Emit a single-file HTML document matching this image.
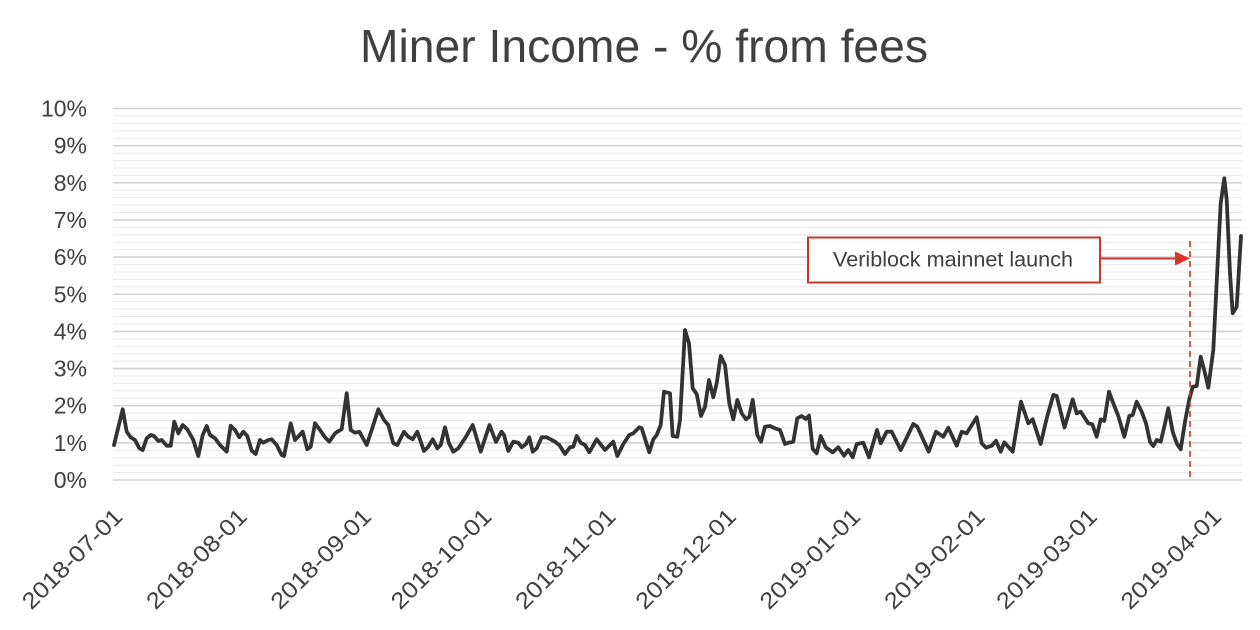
<!DOCTYPE html>
<html>
<head>
<meta charset="utf-8">
<style>
  html, body { margin: 0; padding: 0; background: #ffffff; }
  svg { display: block; }
  text { font-family: "Liberation Sans", sans-serif; fill: #404040; }
</style>
</head>
<body>
<svg width="1260" height="630" viewBox="0 0 1260 630" xmlns="http://www.w3.org/2000/svg">
  <rect x="0" y="0" width="1260" height="630" fill="#ffffff"/>

  <text x="360" y="62" font-size="46" textLength="568" lengthAdjust="spacingAndGlyphs">Miner Income - % from fees</text>

  <g stroke="#e8e8e8" stroke-width="1">
    <line x1="113" x2="1242" y1="472.57" y2="472.57"/>
    <line x1="113" x2="1242" y1="465.14" y2="465.14"/>
    <line x1="113" x2="1242" y1="457.71" y2="457.71"/>
    <line x1="113" x2="1242" y1="450.28" y2="450.28"/>
    <line x1="113" x2="1242" y1="435.42" y2="435.42"/>
    <line x1="113" x2="1242" y1="427.99" y2="427.99"/>
    <line x1="113" x2="1242" y1="420.56" y2="420.56"/>
    <line x1="113" x2="1242" y1="413.13" y2="413.13"/>
    <line x1="113" x2="1242" y1="398.27" y2="398.27"/>
    <line x1="113" x2="1242" y1="390.84" y2="390.84"/>
    <line x1="113" x2="1242" y1="383.41" y2="383.41"/>
    <line x1="113" x2="1242" y1="375.98" y2="375.98"/>
    <line x1="113" x2="1242" y1="361.12" y2="361.12"/>
    <line x1="113" x2="1242" y1="353.69" y2="353.69"/>
    <line x1="113" x2="1242" y1="346.26" y2="346.26"/>
    <line x1="113" x2="1242" y1="338.83" y2="338.83"/>
    <line x1="113" x2="1242" y1="323.97" y2="323.97"/>
    <line x1="113" x2="1242" y1="316.54" y2="316.54"/>
    <line x1="113" x2="1242" y1="309.11" y2="309.11"/>
    <line x1="113" x2="1242" y1="301.68" y2="301.68"/>
    <line x1="113" x2="1242" y1="286.82" y2="286.82"/>
    <line x1="113" x2="1242" y1="279.39" y2="279.39"/>
    <line x1="113" x2="1242" y1="271.96" y2="271.96"/>
    <line x1="113" x2="1242" y1="264.53" y2="264.53"/>
    <line x1="113" x2="1242" y1="249.67" y2="249.67"/>
    <line x1="113" x2="1242" y1="242.24" y2="242.24"/>
    <line x1="113" x2="1242" y1="234.81" y2="234.81"/>
    <line x1="113" x2="1242" y1="227.38" y2="227.38"/>
    <line x1="113" x2="1242" y1="212.52" y2="212.52"/>
    <line x1="113" x2="1242" y1="205.09" y2="205.09"/>
    <line x1="113" x2="1242" y1="197.66" y2="197.66"/>
    <line x1="113" x2="1242" y1="190.23" y2="190.23"/>
    <line x1="113" x2="1242" y1="175.37" y2="175.37"/>
    <line x1="113" x2="1242" y1="167.94" y2="167.94"/>
    <line x1="113" x2="1242" y1="160.51" y2="160.51"/>
    <line x1="113" x2="1242" y1="153.08" y2="153.08"/>
    <line x1="113" x2="1242" y1="138.22" y2="138.22"/>
    <line x1="113" x2="1242" y1="130.79" y2="130.79"/>
    <line x1="113" x2="1242" y1="123.36" y2="123.36"/>
    <line x1="113" x2="1242" y1="115.93" y2="115.93"/>
  </g>

  <g stroke="#d4d4d4" stroke-width="1.6">
    <line x1="113" x2="1242" y1="480" y2="480"/>
    <line x1="113" x2="1242" y1="442.85" y2="442.85"/>
    <line x1="113" x2="1242" y1="405.7" y2="405.7"/>
    <line x1="113" x2="1242" y1="368.55" y2="368.55"/>
    <line x1="113" x2="1242" y1="331.4" y2="331.4"/>
    <line x1="113" x2="1242" y1="294.25" y2="294.25"/>
    <line x1="113" x2="1242" y1="257.1" y2="257.1"/>
    <line x1="113" x2="1242" y1="219.95" y2="219.95"/>
    <line x1="113" x2="1242" y1="182.8" y2="182.8"/>
    <line x1="113" x2="1242" y1="145.65" y2="145.65"/>
    <line x1="113" x2="1242" y1="108.5" y2="108.5"/>
  </g>

  <g font-size="23" text-anchor="end">
    <text x="87" y="488">0%</text>
    <text x="87" y="450.85">1%</text>
    <text x="87" y="413.7">2%</text>
    <text x="87" y="376.55">3%</text>
    <text x="87" y="339.4">4%</text>
    <text x="87" y="302.25">5%</text>
    <text x="87" y="265.1">6%</text>
    <text x="87" y="227.95">7%</text>
    <text x="87" y="190.8">8%</text>
    <text x="87" y="153.65">9%</text>
    <text x="87" y="116.5">10%</text>
  </g>

  <g font-size="23" text-anchor="end">
    <text transform="translate(124,518) rotate(-45)" textLength="131" lengthAdjust="spacingAndGlyphs">2018-07-01</text>
    <text transform="translate(248.3,518) rotate(-45)" textLength="131" lengthAdjust="spacingAndGlyphs">2018-08-01</text>
    <text transform="translate(372.6,518) rotate(-45)" textLength="131" lengthAdjust="spacingAndGlyphs">2018-09-01</text>
    <text transform="translate(492.9,518) rotate(-45)" textLength="131" lengthAdjust="spacingAndGlyphs">2018-10-01</text>
    <text transform="translate(617.2,518) rotate(-45)" textLength="131" lengthAdjust="spacingAndGlyphs">2018-11-01</text>
    <text transform="translate(737.5,518) rotate(-45)" textLength="131" lengthAdjust="spacingAndGlyphs">2018-12-01</text>
    <text transform="translate(861.8,518) rotate(-45)" textLength="131" lengthAdjust="spacingAndGlyphs">2019-01-01</text>
    <text transform="translate(986.2,518) rotate(-45)" textLength="131" lengthAdjust="spacingAndGlyphs">2019-02-01</text>
    <text transform="translate(1098.4,518) rotate(-45)" textLength="131" lengthAdjust="spacingAndGlyphs">2019-03-01</text>
    <text transform="translate(1222.7,518) rotate(-45)" textLength="131" lengthAdjust="spacingAndGlyphs">2019-04-01</text>
  </g>

  <polyline fill="none" stroke="#333333" stroke-width="3.8" stroke-linejoin="round" stroke-linecap="round" points="114,445 122.7,409.3 126.7,431.7 130.7,437.3 135,440 139.3,448.3 142.7,450 146.7,438.3 150.7,435 154,436 158.3,441 161.7,440 166.7,445.7 170.7,445.7 174.3,421.7 178.3,433.3 182.7,425 187.3,429.3 193.3,440 198.3,456 202.7,435 206.7,426 210,435 215,438.3 220,445 226.7,451.7 230.7,425.7 235,430 239.3,437.3 243.3,431.7 247.3,436 251.7,450.7 255.7,454 260,440 263.3,442.7 268.3,440 271.7,439.3 276.7,445 281.7,455 284,456 290.7,423.3 295,440 302.7,431.7 307.3,449.3 310.7,446.7 315,423.3 320,430 325,437.3 329.3,441.7 335,433.3 341.7,429.3 346.7,393.3 350.7,430 355,432.7 359.3,431.7 366.7,445 371.7,430 378.3,409.3 384,420 388.3,425 393.3,443.3 397.3,445 404,431.7 408.3,436.7 412.7,439.3 417.3,431.7 424,451 428.3,446.7 432.7,439.3 437.3,448.3 440.7,445 445,427.3 449,443.3 453.3,451.7 458.3,448.3 465,438.3 472.7,425 480.7,451.7 489.5,425 496,442 501.5,431.7 504,435 508.3,451 513.3,441.7 518.3,442.7 521.7,447.3 526,444 529.3,437.3 532.7,451.7 536.7,448.3 541.7,437.3 546.7,437.3 555,441.7 559.3,445 565,454 570,447.3 573.3,446.7 576.7,436 580.7,442.7 585,445 589.3,452.3 596.7,439.3 605,450 613.3,441.7 617.3,456 623.3,444 629.3,435 633.3,433.3 639.3,427.3 641.7,428.3 649.3,452.3 653.3,439.3 656.7,435 660.7,425 664,391.7 670,393.3 672.7,436 677.3,436.7 680,420 685,330 689,343.3 692.7,388.3 696.7,394 701,416 705,406.7 709,380 713.3,397.3 716.7,383.3 720.7,356 725,365 729.3,403.3 733.3,419.3 737.3,400 741.7,413.3 746,419.3 749.3,416.7 752.7,400 757.3,435 761,441.7 765,426.7 770,426 775,428.3 780,430 785,444 788.3,442.7 793.3,441.7 797.3,418.3 801.7,416 805.7,419 809,415.7 812.7,449 816.7,453.3 820.7,436 825.7,447.3 832.7,452.3 838.3,447.3 844,455.7 848.3,450 852.7,457.3 856.7,444 863.3,442.7 869,457.3 877,430 880.7,443.3 886.7,431.7 891.7,431.7 900.7,450 913.3,424 917.3,426.7 928.7,451.7 936,431.7 943.3,436.7 948.3,427.7 956.7,445.7 961.7,431.7 966.7,433.3 976.7,417.3 981.7,443.3 986,447.7 991.7,445.7 996,440.7 1000.7,451.7 1004.3,442.3 1012.7,451.7 1021,401.7 1028.3,423.3 1032.7,419.3 1040.7,444 1046.7,418.3 1053.3,395 1056.7,396 1064.5,427.5 1072.7,399.3 1076.7,413.3 1080.7,411.7 1085,418.3 1088.3,423.3 1092.3,424.3 1096.7,436.7 1100.7,419.3 1104.3,421 1109,391.7 1113.3,403.3 1118.3,416 1124.3,436.7 1129.3,416 1132.7,415 1136.7,401.7 1141.7,411.7 1146,423.3 1150,441.7 1153.3,446 1156.7,440 1160.7,441.7 1164.3,426.7 1168.3,408.3 1172.7,431.7 1176.7,443.3 1180.7,449.3 1185,421.7 1189.3,399.3 1192.7,386.7 1196.7,386 1200.7,356.7 1205,373.3 1208.3,387.7 1213.3,350 1217.3,270 1220.7,203.3 1224.3,178.3 1226.7,200 1230,273.3 1232.7,313.3 1236.7,306.7 1241,236"/>

  <line x1="1190" y1="241" x2="1190" y2="480" stroke="#c9362c" stroke-width="1.6" stroke-dasharray="6,4"/>

  <rect x="808" y="237.5" width="292" height="45" fill="#ffffff" stroke="#c9372c" stroke-width="2"/>
  <text x="833" y="266.5" font-size="21" textLength="240" lengthAdjust="spacingAndGlyphs" fill="#333333">Veriblock mainnet launch</text>

  <line x1="1100" y1="258.5" x2="1177" y2="258.5" stroke="#e0302a" stroke-width="2"/>
  <polygon points="1175,251.5 1190,258.5 1175,265.5" fill="#e0302a"/>
</svg>
</body>
</html>
